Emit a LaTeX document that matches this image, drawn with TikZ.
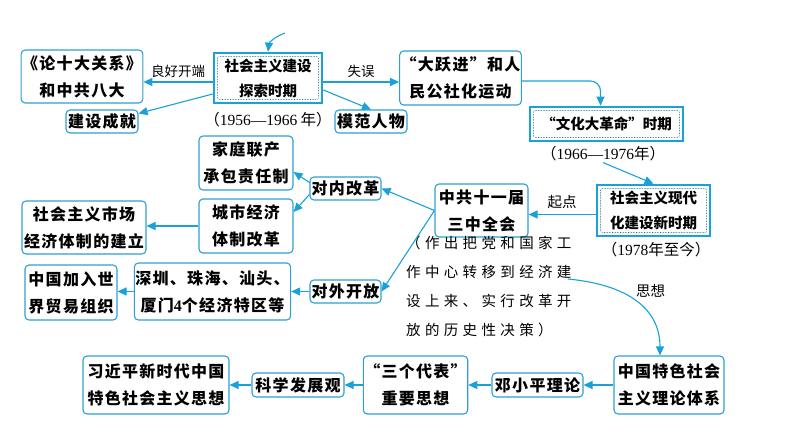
\documentclass[tikz,border=0pt]{standalone}
\usepackage{fontspec}
\setmainfont{Noto Sans CJK SC}
\newfontfamily\boxfont{Noto Sans CJK SC}[LetterSpace=8]
\newfontfamily\notefont{Noto Sans CJK SC}[LetterSpace=30]
\newfontfamily\numfont{Liberation Serif}
\usetikzlibrary{arrows.meta, positioning, calc}
\definecolor{boxblue}{HTML}{2E9FD3}
\definecolor{lineblue}{HTML}{1BA1DA}
\tikzset{
  box/.style={draw=boxblue, line width=1.1pt, rounded corners=4pt, fill=white, align=center,
    inner sep=1pt, font=\boxfont\bfseries\fontsize{16}{27}\selectfont},
  period/.style={draw=lineblue, line width=2.6pt, fill=white, align=center, inner sep=1pt,
    font=\bfseries\fontsize{14.5}{25}\selectfont,
    path picture={\draw[boxblue!70!black, densely dotted, line width=0.6pt, rounded corners=2pt]
      ([shift={(3.5pt,-3.5pt)}]path picture bounding box.north west) rectangle
      ([shift={(-3.5pt,3.5pt)}]path picture bounding box.south east);}},
  conn/.style={draw=lineblue, line width=1.1pt, -{Triangle[length=9pt,width=8pt]}},
  tag/.style={font=\fontsize{13.5}{15}\selectfont, inner sep=1pt},
  year/.style={font=\fontsize{15.5}{17}\selectfont, inner sep=1pt},
  note/.style={font=\notefont\fontsize{14.5}{29}\selectfont, align=left, inner sep=0pt},
}
\begin{document}
\begin{tikzpicture}[x=1pt, y=-1pt]
  \useasboundingbox (0,0) rectangle (794,447);

  % exploration period
  \node[period, minimum width=108pt, minimum height=50pt] (explore) at (268,78) {社会主义建设\\探索时期};
  \node[year] (exploreyear) at (268,120) {（{\numfont 1956—1966} 年）};
  \node[box, minimum width=110pt, minimum height=53pt] (lunshi) at (82,76.5) {《论十大关系》\\和中共八大};
  \node[box, minimum width=72pt, minimum height=23pt] (chengjiu) at (102,121.5) {建设成就};
  \node[box, minimum width=72pt, minimum height=23pt] (mofan) at (371,121.5) {模范人物};
  \node[box, minimum width=121pt, minimum height=54pt] (dayuejin) at (460.5,78) {“大跃进”和人\\民公社化运动};
  \coordinate (topin) at (285,33);

  % cultural revolution
  \node[period, minimum width=153pt, minimum height=34pt] (wenge) at (606.5,124) {“文化大革命”时期};
  \node[year] (wengeyear) at (603,154) {（{\numfont 1966—1976}年）};

  % new period
  \node[period, minimum width=113pt, minimum height=51pt] (xinshiqi) at (653.5,210.5) {社会主义现代\\化建设新时期};
  \node[year] (xinyear) at (656,250) {（{\numfont 1978}年至今）};
  \node[box, minimum width=93pt, minimum height=53pt] (sanzhong) at (481.5,210.5) {中共十一届\\三中全会};
  \node[note, anchor=north west] (decision) at (406,236) {（作出把党和国家工\\作中心转移到经济建\\设上来、实行改革开\\放的历史性决策）};
  \coordinate (thoughtstart) at (568,279);

  % reform
  \node[box, minimum width=71pt, minimum height=23pt] (duinei) at (345.5,188.5) {对内改革};
  \node[box, minimum width=94pt, minimum height=54pt] (jiating) at (246,163) {家庭联产\\承包责任制};
  \node[box, minimum width=94pt, minimum height=54pt] (chengshi) at (246,226) {城市经济\\体制改革};
  \node[box, minimum width=124pt, minimum height=53pt] (shichang) at (84,227.5) {社会主义市场\\经济体制的建立};

  % opening up
  \node[box, minimum width=71pt, minimum height=23pt] (duiwai) at (345.5,291.5) {对外开放};
  \node[box, minimum width=153pt, minimum height=57pt] (tequ) at (212.5,291.5) {深圳、珠海、汕头、\\厦门{\numfont\bfseries 4}个经济特区等};
  \node[box, minimum width=92pt, minimum height=55pt] (wto) at (71,292.5) {中国加入世\\界贸易组织};

  % theory
  \node[box, minimum width=110pt, minimum height=58pt] (tixi) at (669,385) {中国特色社会\\主义理论体系};
  \node[box, minimum width=91pt, minimum height=24pt] (deng) at (537.5,385) {邓小平理论};
  \node[box, minimum width=97pt, minimum height=58pt] (sange) at (415.5,385) {“三个代表”\\重要思想};
  \node[box, minimum width=92pt, minimum height=24pt] (kexue) at (298,385) {科学发展观};
  \node[box, minimum width=146pt, minimum height=58pt] (xi) at (156,385) {习近平新时代中国\\特色社会主义思想};

  % connectors
  \draw[conn] (topin) .. controls (274,37) and (269,43) .. (explore.north);
  \draw[conn] ([yshift=-4pt]explore.west) -- node[tag, above=3pt] (lianghao) {良好开端} ([yshift=-4pt]explore.west -| lunshi.east);
  \draw[conn] ([yshift=-16pt]explore.west) -- ([yshift=-4pt]chengjiu.north east);
  \draw[conn] ([yshift=-4pt]explore.east) -- node[tag, above=3pt] (shiwu) {失误} ([yshift=-4pt]explore.east -| dayuejin.west);
  \draw[conn] ([yshift=-12pt]explore.east) -- (mofan.north);
  \draw[conn, rounded corners=10pt] ([yshift=-3pt]dayuejin.east) -| ([xshift=-6pt]wenge.north);
  \draw[conn] (wengeyear.south) -- (xinshiqi.north);
  \draw[conn] ([yshift=-4pt]xinshiqi.west) -- node[tag, above=4pt, font=\fontsize{14.5}{16}\selectfont] (qidian) {起点} ([yshift=-4pt]xinshiqi.west -| sanzhong.east);
  \draw[conn] (sanzhong.west) -- (duinei.east);
  \draw[conn] (sanzhong.west) -- (duiwai.east);
  \draw[conn] ([yshift=6pt]duinei.west) -- ([yshift=-9pt]jiating.east);
  \draw[conn] ([yshift=-6pt]duinei.west) -- ([yshift=14pt]chengshi.east);
  \draw[conn] (chengshi.west) -- (chengshi.west -| shichang.east);
  \draw[conn] (duiwai.west) -- (tequ.east);
  \draw[conn] (tequ.west) -- (tequ.west -| wto.east);
  \draw[conn] (thoughtstart) .. controls (630,285) and (660,310) .. node[tag, pos=0.45, above right=0pt and 2pt, font=\fontsize{14.5}{16}\selectfont] (sixiang) {思想} ([xshift=-9pt]tixi.north);
  \draw[conn] (tixi.west) -- (deng.east);
  \draw[conn] (deng.west) -- (sange.east);
  \draw[conn] (sange.west) -- (kexue.east);
  \draw[conn] (kexue.west) -- (xi.east);
\end{tikzpicture}
\end{document}
